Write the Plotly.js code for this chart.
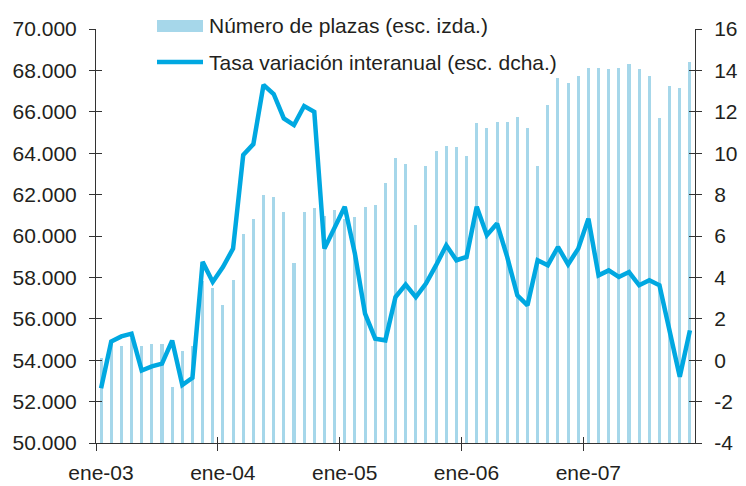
<!DOCTYPE html>
<html>
<head>
<meta charset="utf-8">
<script src="https://cdn.plot.ly/plotly-3.0.1.min.js"></script>
<style>html,body{margin:0;padding:0;background:#fff;}#chart{width:746px;height:486px;}</style>
</head>
<body>
<div id="chart"></div>
<script>
// Months ene-03 ... nov-07
const monthNames = ['ene','feb','mar','abr','may','jun','jul','ago','sep','oct','nov','dic'];
const years = ['03','04','05','06','07'];
const months = [];
years.forEach(y => monthNames.forEach(m => months.push(m + '-' + y)));
months.length = 59;

// Número de plazas (esc. izda.)
const plazas = [
  54120, 54930, 54670, 55090, 54670, 54760, 54760, 52700, 54440, 54670, 57850, 57510,
  56650, 57890, 60090, 60840, 61970, 61890, 61170, 58710, 61170, 61330, 60970, 61250,
  60840, 60920, 61410, 61490, 62570, 63790, 63470, 60520, 63390, 64100, 64360, 64290,
  63870, 65440, 65200, 65490, 65500, 65740, 65200, 63390, 66320, 67650, 67400, 67730,
  68130, 68130, 68070, 68130, 68290, 68070, 67730, 65680, 67240, 67160, 68420
];

// Tasa variación interanual (esc. dcha.)
const tasa = [
  -1.35, 0.90, 1.15, 1.28, -0.50, -0.30, -0.17, 0.95, -1.20, -0.85, 4.75, 3.78,
  4.50, 5.39, 9.91, 10.44, 13.30, 12.86, 11.68, 11.36, 12.28, 12.00, 5.39, 6.44,
  7.41, 5.15, 2.25, 1.04, 0.96, 3.05, 3.65, 3.05, 3.70, 4.59, 5.55, 4.83,
  4.99, 7.41, 6.04, 6.60, 4.99, 3.13, 2.65, 4.83, 4.59, 5.47, 4.63, 5.39,
  6.84, 4.10, 4.34, 4.02, 4.26, 3.62, 3.86, 3.62, 1.52, -0.80, 1.44
];

const xTickLabels = ['ene-03','ene-04','ene-05','ene-06','ene-07'];
const rightTickVals = [-4,-2,0,2,4,6,8,10,12,14,16];
const rightTickText = ['-4','-2','0','2','4','6','8','10','12','14','16'];
const legendNames = ['Número de plazas (esc. izda.)', 'Tasa variación interanual (esc. dcha.)'];

const xIdx = months.map((_, i) => i);
const xTickVals = xTickLabels.map(l => months.indexOf(l) - 0.5);

const BAR = '#a6d7ea';
const LINE = '#00a8e1';
const TXT = '#231f20';
const AX = '#333333';
const FONT = 'Liberation Sans, Arial, Helvetica, sans-serif';

const W = 746, H = 486, ML = 96, MR = 51, MT = 29, MB = 43;
const PW = W - ML - MR, PH = H - MT - MB;
const px = v => (v - ML) / PW;
const py = v => (H - MB - v) / PH;

const traces = [
  {type: 'bar', x: xIdx, y: plazas, width: 0.3, marker: {color: BAR, line: {width: 0}},
   name: legendNames[0], yaxis: 'y', xaxis: 'x', hoverinfo: 'skip'},
  {type: 'scatter', mode: 'lines', x: xIdx, y: tasa, line: {color: LINE, width: 4.5},
   name: legendNames[1], yaxis: 'y2', xaxis: 'x', hoverinfo: 'skip'},
  {type: 'scatter', mode: 'lines', x: [], y: [], xaxis: 'x2', yaxis: 'y3', hoverinfo: 'skip'},
  {type: 'scatter', mode: 'lines', x: [], y: [], xaxis: 'x2', yaxis: 'y4', hoverinfo: 'skip'}
];

const xr = [-0.5, 58.5];
const common = {showgrid: false, zeroline: false, linecolor: AX, linewidth: 1, tickcolor: AX, tickwidth: 1,
  tickfont: {family: FONT, size: 21, color: TXT}};

const layout = {
  width: W, height: H,
  margin: {l: ML, r: MR, t: MT, b: MB, pad: 0},
  paper_bgcolor: '#fff', plot_bgcolor: '#fff',
  showlegend: false,
  separators: ',.',
  font: {family: FONT, color: TXT},
  bargap: 0,
  xaxis: Object.assign({}, common, {range: xr, tickmode: 'array', tickvals: xTickVals, ticktext: xTickLabels,
    ticks: 'outside', ticklen: 7, showline: true, ticklabelshift: 5, ticklabelstandoff: 4, fixedrange: true}),
  xaxis2: Object.assign({}, common, {range: xr, overlaying: 'x', anchor: 'y', tickmode: 'array', tickvals: xTickVals,
    ticks: 'inside', ticklen: 6, showline: false, showticklabels: false}),
  yaxis: Object.assign({}, common, {range: [50000, 70000], dtick: 2000, tick0: 50000, tickformat: ',.0f',
    ticks: 'outside', ticklen: 6, showline: true, ticklabelstandoff: 8}),
  yaxis2: Object.assign({}, common, {range: [-4, 16], overlaying: 'y', side: 'right', anchor: 'x',
    tickmode: 'array', tickvals: rightTickVals, ticktext: rightTickText,
    ticks: 'outside', ticklen: 6, showline: true, ticklabelstandoff: 8}),
  yaxis3: Object.assign({}, common, {range: [50000, 70000], dtick: 2000, tick0: 50000, overlaying: 'y', side: 'left', anchor: 'x2',
    ticks: 'inside', ticklen: 6, showline: false, showticklabels: false}),
  yaxis4: Object.assign({}, common, {range: [-4, 16], dtick: 2, tick0: -4, overlaying: 'y', side: 'right', anchor: 'x2',
    ticks: 'inside', ticklen: 6, showline: false, showticklabels: false}),
  shapes: [
    {type: 'rect', xref: 'paper', yref: 'paper', x0: px(157), x1: px(203), y0: py(32), y1: py(20),
     fillcolor: BAR, line: {width: 0}},
    {type: 'line', xref: 'paper', yref: 'paper', x0: px(157), x1: px(203), y0: py(62), y1: py(62),
     line: {color: LINE, width: 4.5}}
  ],
  annotations: [
    {xref: 'paper', yref: 'paper', x: px(207), y: py(26), xanchor: 'left', yanchor: 'middle', showarrow: false,
     text: legendNames[0], font: {family: FONT, size: 21, color: TXT}},
    {xref: 'paper', yref: 'paper', x: px(207), y: py(62), xanchor: 'left', yanchor: 'middle', showarrow: false,
     text: legendNames[1], font: {family: FONT, size: 21, color: TXT}}
  ]
};

Plotly.newPlot('chart', traces, layout, {staticPlot: true, displayModeBar: false});
</script>
</body>
</html>
